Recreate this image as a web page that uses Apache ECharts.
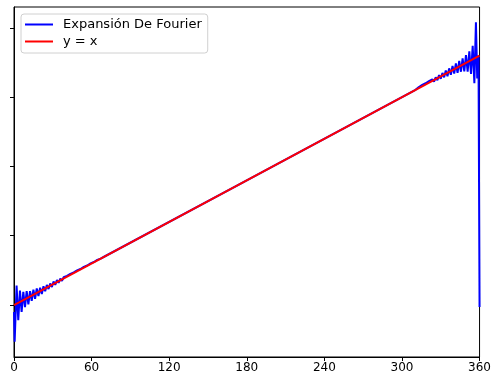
<!DOCTYPE html>
<html>
<head>
<meta charset="utf-8">
<script src="https://cdn.jsdelivr.net/npm/echarts@6/dist/echarts.min.js"></script>
<style>html,body{margin:0;padding:0;background:#fff}#c{width:494px;height:379px}</style>
</head>
<body>
<div id="c"></div>
<script>
// x ticks (degrees) and y tick positions (labels hidden in reference)
const xTicks = [0, 60, 120, 180, 240, 300, 360];
const yTicks = [0, 100, 200, 300, 400];

// y = x reference line
const lineX = [0, 360];
const lineY = [0, 360];

// Fourier expansion
const fourierX = [
  0, 0.5, 2.0, 3.3, 4.6, 5.9, 7.2, 8.5, 9.8, 11.1, 12.4, 13.7, 15.0, 16.3, 17.6, 18.9,
  20.2, 21.5, 22.8, 24.1, 25.4, 26.7, 28.0, 29.3, 30.6, 31.9, 33.2, 34.5, 35.8, 37.1,
  38.4, 39.7, 41.0, 42.3, 43.6, 44.9, 46.2, 47.5, 48.8, 50.1, 51.4, 52.7, 54.0, 55.3,
  56.6, 57.9, 59.2, 60.5, 61.8, 63.1, 64.4, 65.7, 67.0, 68.3, 70,
  180, 310.5,
  311.8, 313.1, 314.4, 315.7, 317.0, 318.3, 319.6, 320.9, 322.2, 323.5, 324.8, 326.1,
  327.4, 328.7, 330.0, 331.3, 332.6, 333.9, 335.2, 336.5, 337.8, 339.1, 340.4, 341.7,
  343.0, 344.3, 345.6, 346.9, 348.2, 349.5, 350.8, 352.1, 353.4, 354.7, 356.0, 357.2,
  358.2, 359.2, 360
];
const fourierY = [
  -10, -53, 28, -22, 21, -10, 19, -3, 20, 1, 20, 6, 22, 9, 24, 13,
  25, 16, 27, 20, 29, 23, 31, 26, 34, 29, 36, 32, 38, 35,
  40, 38, 42, 41, 45, 44, 47, 46, 50, 49, 52, 52, 55, 54,
  57, 57, 60, 60, 62, 63, 65, 65, 67, 68, 70,
  180, 310.5,
  310.8, 314.6, 312.9, 317.7, 315.5, 320, 317.9, 322.9, 320.2, 325.5, 322.3, 328.6,
  324.4, 331.7, 326.5, 334.8, 328.6, 338.4, 330.2, 341.5, 332.3, 345.1, 333.9, 348.7,
  335, 352.3, 336.6, 355.9, 337.2, 360.5, 336.8, 366.1, 333.4, 374, 320, 408,
  327, 360, -3
];

const chart = echarts.init(document.getElementById('c'), null, {renderer: 'canvas'});
const FONT = 'DejaVu Sans';
chart.setOption({
  animation: false,
  backgroundColor: '#fff',
  grid: {left: 14, right: 11, top: 7, bottom: 22, show: true, borderColor: '#000', borderWidth: 1, backgroundColor: 'transparent'},
  legend: {
    left: 21, top: 14, orient: 'vertical',
    backgroundColor: 'rgba(255,255,255,0.8)', borderColor: '#d0d0d0', borderWidth: 1, borderRadius: 3,
    padding: [4, 6, 5, 4], itemGap: 4, itemWidth: 28, itemHeight: 2, icon: 'rect',
    textStyle: {fontFamily: FONT, fontSize: 13, color: '#000', padding: [0, 0, 0, 5]},
    data: [{name: 'Expansión De Fourier'}, {name: 'y = x'}]
  },
  xAxis: {
    type: 'value', min: 0, max: 360, interval: 60,
    axisLine: {show: true, onZero: false, lineStyle: {color: '#000', width: 1}},
    axisTick: {show: true, length: 4, lineStyle: {color: '#000'}, customValues: xTicks},
    axisLabel: {fontFamily: FONT, fontSize: 12, color: '#000', margin: 5, customValues: xTicks},
    splitLine: {show: false}
  },
  yAxis: {
    type: 'value', min: -75, max: 430,
    axisLine: {show: true, onZero: false, lineStyle: {color: '#000', width: 1}},
    axisTick: {show: true, length: 4, lineStyle: {color: '#000'}, customValues: yTicks},
    axisLabel: {show: false},
    splitLine: {show: false}
  },
  series: [
    {
      name: 'Expansión De Fourier', type: 'line', showSymbol: false, symbol: 'none',
      data: fourierX.map((x, i) => [x, fourierY[i]]),
      lineStyle: {color: '#0000ff', width: 2}, itemStyle: {color: '#0000ff'}, z: 2
    },
    {
      name: 'y = x', type: 'line', showSymbol: false, symbol: 'none',
      data: lineX.map((x, i) => [x, lineY[i]]),
      lineStyle: {color: '#ff0000', width: 2}, itemStyle: {color: '#ff0000'}, z: 3
    }
  ]
});
</script>
</body>
</html>
